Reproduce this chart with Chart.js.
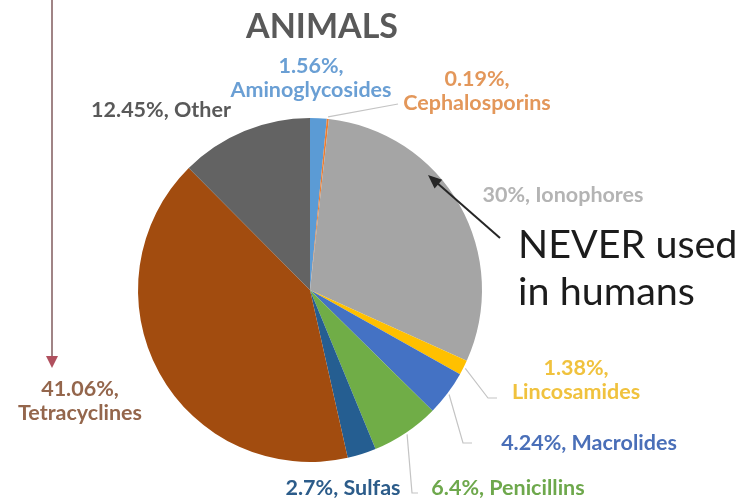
<!DOCTYPE html>
<html lang="en">
<head>
    <meta charset="UTF-8">
    <title>Antibiotic use in animals</title>
    <style>
        html, body {
            margin: 0;
            padding: 0;
            background: #ffffff;
        }

        .chart-box {
            position: relative;
            width: 742px;
            height: 503px;
        }
    </style>
</head>
<body>
    <div class="chart-box">
        <canvas id="animalsPie"></canvas>
    </div>

    <script src="https://cdn.jsdelivr.net/npm/chart.js@4.4.0/dist/chart.umd.min.js"></script>
    <script>
        // share of each antibiotic class sold for animals (%)
        const categories = ['Aminoglycosides', 'Cephalosporins', 'Ionophores', 'Lincosamides', 'Macrolides',
            'Penicillins', 'Sulfas', 'Tetracyclines', 'Other'];
        const shares = [1.56, 0.19, 30, 1.38, 4.24, 6.4, 2.7, 41.06, 12.45];

        const sliceColors = ['#5b9bd5', '#ed7d31', '#a5a5a5', '#ffc000', '#4472c4',
            '#70ad47', '#255e91', '#a24c0f', '#636363'];
        const labelColors = ['#6a9fd4', '#e3975a', '#b4b4b4', '#f0c23e', '#4a6fb8',
            '#6ea84c', '#2c5c8a', '#94664c', '#595959'];

        // label placement, relative to the pie centre; leader = elbow points after the slice edge
        const labelLayout = [
            { dx: 1, dy: -212, split: true },
            { dx: 167, dy: -199, split: true, leader: [[88, -186]] },
            { dx: 253, dy: -95 },
            { dx: 266, dy: 90, split: true, leader: [[178, 108], [187, 108]] },
            { dx: 279, dy: 153, leader: [[153, 153], [162, 153]] },
            { dx: 198, dy: 198, leader: [[102, 203], [108, 203]] },
            { dx: 33, dy: 198 },
            { dx: -230, dy: 111, split: true },
            { dx: -149, dy: -180 }
        ];

        const FONT = 'Lato, "Open Sans", sans-serif';

        const sliceLabels = {
            id: 'sliceLabels',
            afterDatasetsDraw(chart) {
                const ctx = chart.ctx;
                const arcs = chart.getDatasetMeta(0).data;
                ctx.save();
                arcs.forEach((arc, i) => {
                    const cx = arc.x, cy = arc.y;
                    const lay = labelLayout[i];
                    const value = chart.data.datasets[0].data[i];
                    const name = chart.data.labels[i];

                    if (lay.leader) {
                        const mid = (arc.startAngle + arc.endAngle) / 2;
                        const r = arc.outerRadius + 2;
                        ctx.beginPath();
                        ctx.moveTo(cx + Math.cos(mid) * r, cy + Math.sin(mid) * r);
                        lay.leader.forEach(p => ctx.lineTo(cx + p[0], cy + p[1]));
                        ctx.strokeStyle = '#c4c4c4';
                        ctx.lineWidth = 1.2;
                        ctx.stroke();
                    }

                    ctx.font = 'bold 21.5px ' + FONT;
                    ctx.fillStyle = labelColors[i];
                    ctx.textAlign = 'center';
                    ctx.textBaseline = 'middle';
                    const x = cx + lay.dx, y = cy + lay.dy;
                    if (lay.split) {
                        ctx.fillText(value + '%,', x, y - 12);
                        ctx.fillText(name, x, y + 12);
                    } else {
                        ctx.fillText(value + '%, ' + name, x, y);
                    }
                });
                ctx.restore();
            }
        };

        // title, the callout for ionophores and the arrow down the left side
        const annotations = {
            id: 'annotations',
            afterDraw(chart) {
                const ctx = chart.ctx;
                const arc = chart.getDatasetMeta(0).data[2];
                const cx = arc.x, cy = arc.y;
                ctx.save();

                ctx.font = 'bold 34px ' + FONT;
                ctx.fillStyle = '#595959';
                ctx.textAlign = 'center';
                ctx.textBaseline = 'middle';
                ctx.fillText('ANIMALS', cx + 12, 27);

                ctx.font = '39.5px ' + FONT;
                ctx.fillStyle = '#1c1c1c';
                ctx.textAlign = 'left';
                ctx.textBaseline = 'alphabetic';
                ctx.fillText('NEVER used', cx + 208, cy - 32);
                ctx.fillText('in humans', cx + 208, cy + 15);

                // arrow pointing at the ionophores slice
                const tipX = cx + 118, tipY = cy - 115;
                const tailX = cx + 190, tailY = cy - 52;
                const ang = Math.atan2(tipY - tailY, tipX - tailX);
                ctx.strokeStyle = '#262626';
                ctx.fillStyle = '#262626';
                ctx.lineWidth = 2;
                ctx.beginPath();
                ctx.moveTo(tailX, tailY);
                ctx.lineTo(tipX - Math.cos(ang) * 8, tipY - Math.sin(ang) * 8);
                ctx.stroke();
                ctx.beginPath();
                ctx.moveTo(tipX, tipY);
                ctx.lineTo(tipX - Math.cos(ang - 0.4) * 15, tipY - Math.sin(ang - 0.4) * 15);
                ctx.lineTo(tipX - Math.cos(ang + 0.4) * 15, tipY - Math.sin(ang + 0.4) * 15);
                ctx.closePath();
                ctx.fill();

                // red arrow on the left edge
                ctx.strokeStyle = '#a08486';
                ctx.lineWidth = 2;
                ctx.beginPath();
                ctx.moveTo(52, 0);
                ctx.lineTo(52, 358);
                ctx.stroke();
                ctx.fillStyle = '#b0505e';
                ctx.beginPath();
                ctx.moveTo(46, 356);
                ctx.lineTo(58, 356);
                ctx.lineTo(52, 368);
                ctx.closePath();
                ctx.fill();

                ctx.restore();
            }
        };

        new Chart(document.getElementById('animalsPie'), {
            type: 'pie',
            data: {
                labels: categories,
                datasets: [{
                    data: shares,
                    backgroundColor: sliceColors,
                    borderWidth: 0
                }]
            },
            options: {
                responsive: true,
                maintainAspectRatio: false,
                animation: false,
                layout: {
                    padding: { top: 118, bottom: 41, left: 138, right: 260 }
                },
                plugins: {
                    legend: { display: false },
                    tooltip: { enabled: false }
                }
            },
            plugins: [sliceLabels, annotations]
        });
    </script>
</body>
</html>
